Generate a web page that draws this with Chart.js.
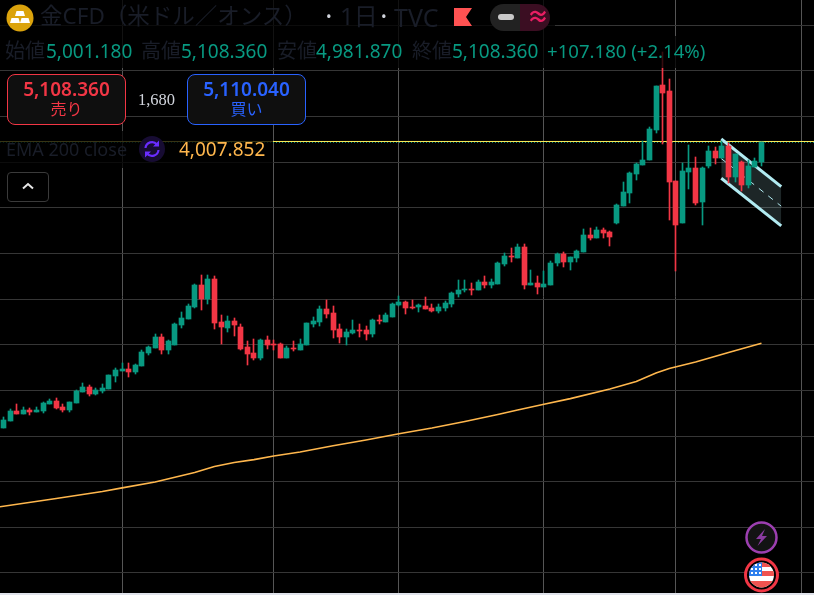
<!DOCTYPE html>
<html lang="ja">
<head>
<meta charset="utf-8">
<title>金CFD</title>
<script src="https://cdn.jsdelivr.net/npm/chart.js@4"></script>
<style>
  html, body { margin: 0; padding: 0; background: #e0e3eb; width: 814px; height: 595px; overflow: hidden; }
  #wrap { position: relative; width: 814px; height: 593px; background: #000; overflow: hidden; }
  #wrap canvas { position: absolute; left: 0; top: 0; }
  .t { position: absolute; white-space: nowrap; font-family: "Noto Sans", "Noto Sans CJK JP", sans-serif; line-height: 1; }
  .dim { position: absolute; background: rgba(0,0,0,.78); }
  .lbl { color: #191d28; font-size: 20px; }
  .val { color: #089981; font-size: 19px; }
  .box { position: absolute; top: 74px; width: 117px; height: 49px; border-radius: 8px; background: #0f0f0f; border: 1px solid; }
  .icon { position: absolute; }
</style>
</head>
<body>
<div id="wrap">
  <canvas id="myChart" width="814" height="593"></canvas>

  <div class="dim" style="left:0;top:0;width:555px;height:36px"></div>
  <div class="dim" style="left:0;top:36px;width:710px;height:32px"></div>
  <div class="dim" style="left:0;top:131px;width:273px;height:37px"></div>

  <svg class="icon" style="left:6px;top:4px" width="28" height="28" viewBox="0 0 28 28">
    <circle cx="14" cy="14" r="13.5" fill="#dba30c"/>
    <path d="M10.500 7h7l1.500 5h-10zM5.500 14h7l1.500 5H4zM15.500 14h7l1.500 5H14z" fill="#fff"/>
  </svg>
  <div class="t" style="left:40px;top:5px;font-size:22.5px;color:#191d28">金CFD（米ドル／オンス）</div>
  <div class="t" style="left:326px;top:9px;font-size:15px;color:#d1d4dc">•</div>
  <div class="t" style="left:340px;top:4px;font-size:24px;color:#191d28">1日</div>
  <div class="t" style="left:381px;top:9px;font-size:15px;color:#d1d4dc">•</div>
  <div class="t" style="left:394px;top:5px;font-size:25px;color:#191d28">TVC</div>

  <svg class="icon" style="left:454px;top:8px" width="19" height="18" viewBox="0 0 19 18">
    <path d="M0 0H18L12 9l6 9H0z" fill="#ff5252"/>
  </svg>
  <div class="icon" style="left:490px;top:4px;width:30px;height:27px;background:#222;border-radius:14px 0 0 14px"></div>
  <div class="icon" style="left:520px;top:4px;width:30px;height:27px;background:#3b0e22;border-radius:0 14px 14px 0"></div>
  <div class="icon" style="left:498px;top:14px;width:16px;height:6px;background:#c8c8c8;border-radius:3px"></div>
  <div class="t" style="left:527px;top:4px;font-size:22px;color:#e91e63;font-weight:700">≈</div>

  <div class="t lbl" style="left:5px;top:41px">始値</div>
  <div class="t val" style="left:46px;top:42px">5,001.180</div>
  <div class="t lbl" style="left:141px;top:41px">高値</div>
  <div class="t val" style="left:181px;top:42px">5,108.360</div>
  <div class="t lbl" style="left:277px;top:41px">安値</div>
  <div class="t val" style="left:316px;top:42px">4,981.870</div>
  <div class="t lbl" style="left:412px;top:41px">終値</div>
  <div class="t val" style="left:452px;top:42px">5,108.360</div>
  <div class="t val" style="left:547px;top:42px;font-size:18.6px">+107.180 (+2.14%)</div>

  <div class="box" style="left:7px;border-color:#f23645"></div>
  <div class="t" style="left:7px;width:119px;top:80px;text-align:center;font-size:19px;font-weight:600;color:#f23645">5,108.360</div>
  <div class="t" style="left:7px;width:119px;top:101px;text-align:center;font-size:16px;color:#f23645">売り</div>
  <div class="t" style="left:126px;width:61px;top:92px;text-align:center;font-size:16.5px;color:#d1d4dc;font-family:'Liberation Serif',serif">1,680</div>
  <div class="box" style="left:187px;border-color:#2962ff"></div>
  <div class="t" style="left:187px;width:119px;top:80px;text-align:center;font-size:19px;font-weight:600;color:#2962ff">5,110.040</div>
  <div class="t" style="left:187px;width:119px;top:101px;text-align:center;font-size:16px;color:#2962ff">買い</div>

  <div class="t" style="left:6px;top:140px;font-size:18px;color:#191d28">EMA 200 close</div>
  <svg class="icon" style="left:139px;top:136px" width="26" height="26" viewBox="0 0 26 26">
    <circle cx="13" cy="13" r="13" fill="#170c33"/>
    <path d="M6.500 12a6.500 6.500 0 0 1 11.500-3.500M19.500 14a6.500 6.500 0 0 1-11.500 3.500" fill="none" stroke="#6a2cff" stroke-width="2.200"/>
    <path d="M20 4.500v6h-6zM6 21.500v-6h6z" fill="#6a2cff"/>
  </svg>
  <div class="t" style="left:179px;top:140px;font-size:19px;color:#ffb74d">4,007.852</div>

  <div class="icon" style="left:7px;top:172px;width:40px;height:28px;border:1px solid #3a3a3a;border-radius:4px;background:#000"></div>
  <svg class="icon" style="left:21px;top:181px" width="14" height="10" viewBox="0 0 14 10">
    <path d="M2 7.500L7 3l5 4.500" fill="none" stroke="#e6e6e6" stroke-width="2"/>
  </svg>

  <svg class="icon" style="left:744px;top:520px" width="35" height="35" viewBox="0 0 35 35">
    <circle cx="17.500" cy="17.500" r="15" fill="#131313" stroke="#9c3fb0" stroke-width="2.500"/>
    <path d="M21 9l-9 10h5l-3.500 7 9.500-10h-5z" fill="#8a3aa0"/>
  </svg>
  <svg class="icon" style="left:744px;top:557px" width="36" height="36" viewBox="0 0 36 36">
    <defs><clipPath id="fc"><circle cx="17.500" cy="18" r="12.500"/></clipPath></defs>
    <circle cx="17.500" cy="18" r="16" fill="#000" stroke="#f23645" stroke-width="3"/>
    <g clip-path="url(#fc)">
      <rect x="4" y="5" width="28" height="26" fill="#fff"/>
      <rect x="4" y="5" width="28" height="5" fill="#ef5350"/>
      <rect x="4" y="14" width="28" height="5" fill="#ef5350"/>
      <rect x="4" y="24" width="28" height="8" fill="#ef5350"/>
      <rect x="4" y="5" width="14" height="14" fill="#2f80ed"/>
      <path d="M7 8h2M11 8h2M15 8h2M7 12h2M11 12h2M15 12h2M7 16h2M11 16h2M15 16h2" stroke="#fff" stroke-width="2"/>
    </g>
  </svg>
</div>

<script>
const opens = [3544,3583,3637,3621,3643,3632,3637,3676,3692,3659,
  3643,3681,3741,3769,3730,3747,3758,3829,3856,3867,
  3851,3884,3955,3982,4043,3971,3999,4108,4141,4207,
  4327,4251,4360,4125,4092,4130,4097,3988,3955,3928,
  4026,4004,4004,3928,3982,3971,3999,4114,4125,4196,
  4174,4086,4043,4065,4081,4081,4059,4136,4125,4152,
  4218,4234,4207,4207,4212,4201,4185,4201,4223,4278,
  4300,4306,4300,4344,4327,4333,4442,4486,4475,4535,
  4327,4338,4316,4327,4448,4497,4453,4475,4508,4601,
  4585,4629,4618,4667,4760,4831,4935,4985,5012,5176,
  5423,5390,4897,4667,4946,4968,4782,4979,5061,5023,
  5089,4919,5001,4875,4974,5001.18];
const highs = [3603,3648,3676,3659,3654,3659,3687,3703,3708,3676,
  3687,3752,3791,3780,3763,3785,3834,3873,3900,3900,
  3895,3971,3993,4059,4059,4026,4119,4180,4223,4333,
  4382,4382,4377,4163,4158,4147,4114,4021,4032,4032,
  4048,4026,4010,3993,4021,4032,4119,4152,4212,4245,
  4212,4114,4086,4136,4114,4103,4141,4163,4174,4229,
  4267,4240,4245,4223,4262,4223,4223,4240,4289,4355,
  4355,4338,4355,4377,4360,4453,4503,4530,4552,4552,
  4410,4377,4404,4459,4503,4508,4481,4519,4634,4640,
  4645,4640,4623,4771,4892,4946,4996,5116,5193,5417,
  5604,5456,4897,4996,5094,5029,4974,5089,5083,5116,
  5105,5045,5007,5012,5023,5108.36];
const lows = [3544,3583,3621,3621,3615,3632,3626,3676,3648,3632,
  3632,3681,3741,3719,3725,3736,3758,3796,3856,3824,
  3840,3884,3944,3982,3949,3949,3999,4092,4141,4201,
  4190,4223,4086,4004,4070,4048,3971,3889,3917,3917,
  3977,3971,3928,3928,3966,3971,3999,4097,4103,4147,
  4037,4010,3999,4059,4043,4026,4043,4114,4125,4152,
  4212,4169,4196,4180,4196,4180,4174,4185,4207,4262,
  4289,4273,4300,4311,4311,4333,4431,4453,4475,4306,
  4327,4278,4316,4327,4431,4426,4410,4453,4508,4574,
  4585,4585,4541,4662,4760,4777,4903,4985,5012,5160,
  5100,4683,4405,4667,4853,4766,4656,4968,4990,5023,
  4886,4892,4842,4859,4974,4981.87];
const closes = [3588,3637,3621,3643,3632,3643,3681,3692,3654,3643,
  3687,3747,3769,3730,3752,3763,3834,3862,3867,3851,
  3889,3960,3988,4043,3971,4021,4114,4147,4212,4327,
  4251,4360,4119,4097,4130,4108,3977,3949,3928,4026,
  3999,3999,3928,3982,3977,4004,4119,4130,4196,4169,
  4081,4043,4070,4081,4075,4059,4136,4130,4163,4223,
  4234,4201,4201,4218,4196,4185,4207,4229,4284,4300,
  4306,4300,4344,4327,4344,4448,4486,4481,4535,4327,
  4338,4316,4333,4448,4497,4453,4481,4514,4601,4585,
  4629,4612,4590,4766,4837,4941,4990,5012,5182,5417,
  5379,4892,4656,4952,4968,4777,4968,5061,5023,5089,
  4919,5045,4875,4979,5007,5108.36];

const emaIdx = [-0.53,8,15,18,23,26,29,32,35,38,41,45,50,55,60,65,70,75,78,82,86,92,96,99,101,105,110,115];
const emaVals = [3113,3158,3196,3216,3248,3274,3300,3333,3355,3371,3391,3413,3447,3478,3513,3544,3580,3618,3643,3674,3705,3758,3799,3845,3870,3906,3958,4007.852];

// falling channel drawn on the chart
const channelIdx = [108.9, 118];
const channelTop = [5127, 4866];
const channelMid = [5020, 4759];
const channelBottom = [4912, 4651];

const lastClose = 5108.36;
const levelLine = 5113.4;

const xGridTicks = [18, 41, 60, 82, 102, 121];
const yGridTicks = [2750,3000,3250,3500,3750,4000,4250,4500,4750,5000,5250,5500,5750];

const xMin = -0.531, xMax = 122.97;
const yMin = 2640.4, yMax = 5888.4;

const green = '#089981', red = '#f23645';
const candleColors = closes.map((c, i) => c >= opens[i] ? green : red);

const toPoints = (xs, ys) => xs.map((x, i) => ({ x: x, y: ys[i] }));

// bars come out blurry on fractional pixels, so snap them like the original
const snapBars = {
  id: 'snapBars',
  beforeDatasetsDraw(chart) {
    chart.data.datasets.forEach((ds, n) => {
      if (ds.type !== 'bar') return;
      chart.getDatasetMeta(n).data.forEach(el => {
        el.x = Math.floor(el.x) + 0.5;
        const top = Math.round(Math.min(el.y, el.base));
        let bottom = Math.round(Math.max(el.y, el.base));
        if (bottom - top < 1) bottom = top + 1;
        el.y = top;
        el.base = bottom;
        el.height = bottom - top;
      });
    });
  }
};

new Chart(document.getElementById('myChart'), {
  data: {
    datasets: [
      { type: 'bar', data: opens.map((o, i) => ({ x: i, y: [o, closes[i]] })), backgroundColor: candleColors, barThickness: 5, grouped: false, order: 1 },
      { type: 'bar', data: lows.map((l, i) => ({ x: i, y: [l, highs[i]] })), backgroundColor: candleColors, barThickness: 1, grouped: false, order: 2 },
      { type: 'line', data: toPoints(channelIdx, channelTop), borderColor: '#b2ebf2', borderWidth: 3, pointRadius: 0, fill: '+1', backgroundColor: 'rgba(178,235,242,0.16)', order: 3 },
      { type: 'line', data: toPoints(channelIdx, channelBottom), borderColor: '#b2ebf2', borderWidth: 3, pointRadius: 0, fill: false, order: 3 },
      { type: 'line', data: toPoints(channelIdx, channelMid), borderColor: '#b2ebf2', borderWidth: 1, borderDash: [6, 6], pointRadius: 0, fill: false, order: 3 },
      { type: 'line', data: toPoints(emaIdx, emaVals), borderColor: '#ffb74d', borderWidth: 1.6, pointRadius: 0, fill: false, order: 4 },
      { type: 'line', data: toPoints([xMin, xMax], [levelLine, levelLine]), borderColor: '#ffee58', borderWidth: 1, pointRadius: 0, fill: false, order: 5 },
      { type: 'line', data: toPoints([xMin, xMax], [lastClose, lastClose]), borderColor: green, borderWidth: 1, borderDash: [1, 2], pointRadius: 0, fill: false, order: 5 }
    ]
  },
  options: {
    responsive: false,
    animation: false,
    layout: { padding: 0 },
    plugins: { legend: { display: false }, tooltip: { enabled: false } },
    scales: {
      x: {
        type: 'linear', min: xMin, max: xMax, offset: false,
        afterBuildTicks: s => { s.ticks = xGridTicks.map(v => ({ value: v })); },
        ticks: { display: false },
        border: { display: false },
        grid: { color: '#555555', drawTicks: false, offset: false }
      },
      y: {
        min: yMin, max: yMax,
        afterBuildTicks: s => { s.ticks = yGridTicks.map(v => ({ value: v })); },
        ticks: { display: false },
        border: { display: false },
        grid: { color: '#363636', drawTicks: false }
      }
    }
  },
  plugins: [snapBars]
});
</script>
</body>
</html>
